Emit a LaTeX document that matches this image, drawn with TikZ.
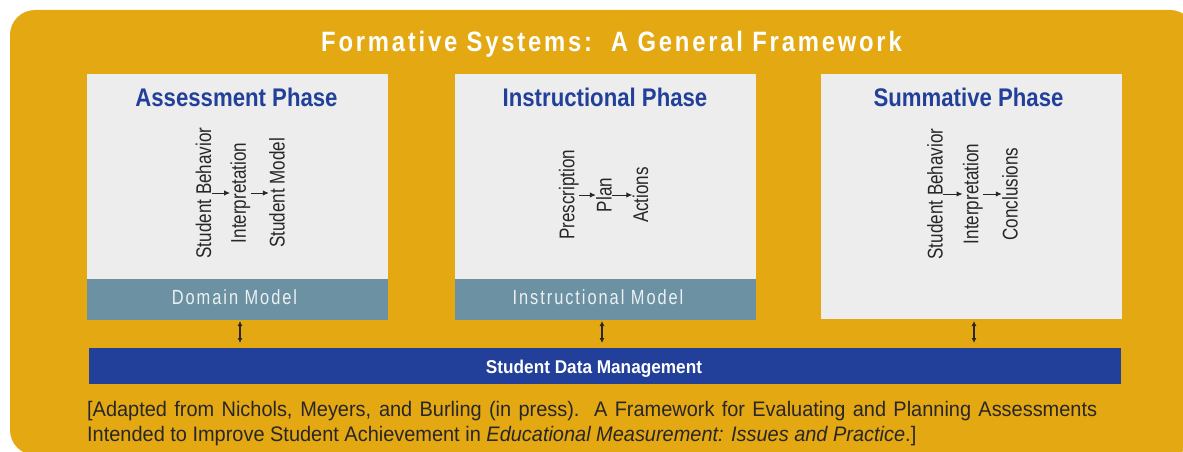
\documentclass[tikz,border=0pt]{standalone}
\usepackage{fontspec}
\setmainfont{Liberation Sans}
\usetikzlibrary{arrows.meta}
\newfontfamily\fTitle[FakeStretch=0.85,LetterSpace=10]{Liberation Sans}
\newfontfamily\fHead[FakeStretch=0.87]{Liberation Sans}
\newfontfamily\fLab[FakeStretch=0.8]{Liberation Sans}
\newfontfamily\fModel[FakeStretch=0.8,LetterSpace=9.5]{Liberation Sans}
\newfontfamily\fBar[FakeStretch=0.93]{Liberation Sans}
\newfontfamily\fFoot[FakeStretch=0.95]{Liberation Sans}
\definecolor{gold}{RGB}{227,168,18}
\definecolor{panel}{RGB}{237,237,237}
\definecolor{band}{RGB}{107,145,163}
\definecolor{navy}{RGB}{34,64,154}
\definecolor{ink}{RGB}{40,38,38}
\definecolor{bandtext}{RGB}{236,241,244}
\tikzset{
  panelbox/.style={fill=panel, inner sep=0, anchor=north west},
  bandbox/.style={fill=band, inner sep=0, anchor=north west},
  heading/.style={text=navy, font=\fHead\fontsize{25.5}{28}\selectfont\bfseries, anchor=base, inner sep=0},
  lab/.style={text=ink, font=\fLab\fontsize{21.3}{24}\selectfont, rotate=90, inner sep=0.5pt, text height=15pt, text depth=0pt},
  labp/.style={lab, text depth=4.5pt},
  modeltext/.style={text=bandtext, font=\fModel\fontsize{20.5}{24}\selectfont, anchor=base, inner sep=0},
  flow/.style={draw=ink, line width=1pt, -{Latex[length=6pt,width=5.5pt]}},
  link/.style={draw=ink, line width=1.1pt, {Latex[length=5pt,width=5pt]}-{Latex[length=5pt,width=5pt]}},
}
\begin{document}
\begin{tikzpicture}[x=1pt,y=-1pt]
\useasboundingbox (0,0) rectangle (1183,452);
\fill[white] (0,0) rectangle (1183,452);
\fill[gold, rounded corners=25pt] (10,10) rectangle (1195,455);

\node[anchor=base, text=white, inner sep=0, font=\fTitle\fontsize{28}{32}\selectfont\bfseries] (title) at (611.5,52) {Formative Systems:\ \ A General Framework};

% panels
\node[panelbox, minimum width=301pt, minimum height=246pt] (p1) at (87,74) {};
\node[panelbox, minimum width=301pt, minimum height=246pt] (p2) at (455,74) {};
\node[panelbox, minimum width=301pt, minimum height=245pt] (p3) at (821,74) {};
\node[bandbox, minimum width=301pt, minimum height=41pt] (b1) at (87,279) {};
\node[bandbox, minimum width=301pt, minimum height=41pt] (b2) at (455,279) {};

\node[heading] (h1) at (236.5,106.5) {Assessment Phase};
\node[heading] (h2) at (605,106.5) {Instructional Phase};
\node[heading] (h3) at (968.5,106.5) {Summative Phase};

\node[modeltext] (m1) at (234.5,304) {Domain Model};
\node[modeltext] (m2) at (598,304) {Instructional Model};

% assessment flow
\node[lab] (a1) at (203.5,193) {Student Behavior};
\node[labp] (a2) at (240.5,193) {Interpretation};
\node[lab] (a3) at (277,193) {Student Model};
\draw[flow] (a1) -- (a2);
\draw[flow] (a2) -- (a3);

% instructional flow
\node[labp] (i1) at (569,195) {Prescription};
\node[lab] (i2) at (604,195) {Plan};
\node[lab] (i3) at (640.5,195) {Actions};
\draw[flow] (i1) -- (i2);
\draw[flow] (i2) -- (i3);

% summative flow
\node[lab] (s1) at (935,194) {Student Behavior};
\node[labp] (s2) at (973,194) {Interpretation};
\node[lab] (s3) at (1010,194) {Conclusions};
\draw[flow] (s1) -- (s2);
\draw[flow] (s2) -- (s3);

% data bar
\node[fill=navy, inner sep=0, anchor=north west, minimum width=1032pt, minimum height=36pt] (bar) at (89,348) {};
\node[anchor=base, text=white, inner sep=0, font=\fBar\fontsize{18.5}{22}\selectfont\bfseries] (bartext) at (594,373.3) {Student Data Management};

\coordinate (u1) at (240,321); \coordinate (d1) at (240,343);
\coordinate (u2) at (602,321); \coordinate (d2) at (602,343);
\coordinate (u3) at (974,321); \coordinate (d3) at (974,343);
\draw[link] (u1) -- (d1);
\draw[link] (u2) -- (d2);
\draw[link] (u3) -- (d3);

% footnote
\node[anchor=base west, text=ink, inner sep=0, font=\fFoot\fontsize{21}{24}\selectfont] (f1) at (87,416.5)
  {\makebox[1010pt][s]{[Adapted from Nichols, Meyers, and Burling (in press).\ \ A Framework for Evaluating and Planning Assessments}};
\node[anchor=base west, text=ink, inner sep=0, font=\fFoot\fontsize{21}{24}\selectfont] (f2) at (87,441.5)
  {Intended to Improve Student Achievement in \textit{Educational Measurement: Issues and Practice}.]};
\end{tikzpicture}
\end{document}
